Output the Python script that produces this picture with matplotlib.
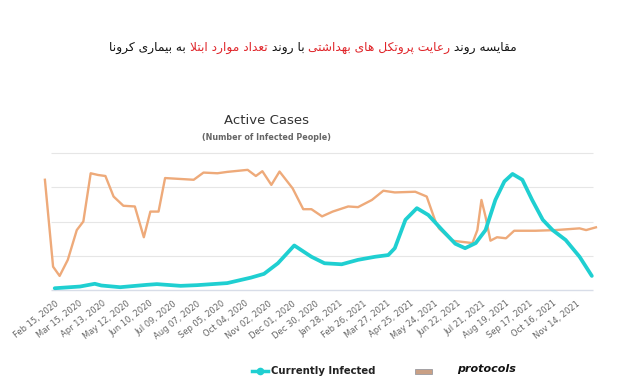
import matplotlib
matplotlib.use("Agg")
import matplotlib.pyplot as plt
import matplotlib.patches as mpatches
from matplotlib.lines import Line2D
import pandas as pd

# data (y in gridline units, 0 = axis, 4 = top gridline)
infected_dates = ["2020-02-15", "2020-03-17", "2020-04-04", "2020-04-12", "2020-05-05",
                  "2020-06-07", "2020-06-19", "2020-07-18", "2020-08-07", "2020-09-13",
                  "2020-10-12", "2020-10-28", "2020-11-14", "2020-12-04", "2020-12-25",
                  "2021-01-10", "2021-01-31", "2021-02-20", "2021-03-13", "2021-03-29",
                  "2021-04-06", "2021-04-19", "2021-05-03", "2021-05-17", "2021-06-03",
                  "2021-06-19", "2021-07-01", "2021-07-14", "2021-07-26", "2021-08-07",
                  "2021-08-18", "2021-08-28", "2021-09-09", "2021-09-21", "2021-10-04",
                  "2021-10-16", "2021-11-01", "2021-11-18", "2021-12-03"]
infected = [0.05, 0.10, 0.18, 0.13, 0.08, 0.15, 0.17, 0.12, 0.14, 0.20,
            0.36, 0.47, 0.78, 1.30, 0.97, 0.78, 0.75, 0.88, 0.97, 1.02,
            1.22, 2.05, 2.39, 2.19, 1.75, 1.35, 1.22, 1.37, 1.75, 2.63,
            3.17, 3.39, 3.22, 2.63, 2.05, 1.75, 1.46, 0.97, 0.41]

protocol_dates = ["2020-02-03", "2020-02-13", "2020-02-21", "2020-03-02", "2020-03-13",
                  "2020-03-21", "2020-03-30", "2020-04-08", "2020-04-17", "2020-04-27",
                  "2020-05-09", "2020-05-23", "2020-06-03", "2020-06-11", "2020-06-21",
                  "2020-06-29", "2020-08-03", "2020-08-15", "2020-09-01", "2020-09-13",
                  "2020-10-08", "2020-10-18", "2020-10-26", "2020-11-06", "2020-11-16",
                  "2020-12-02", "2020-12-15", "2020-12-25", "2021-01-07", "2021-01-20",
                  "2021-02-08", "2021-02-20", "2021-03-09", "2021-03-23", "2021-04-06",
                  "2021-05-01", "2021-05-15", "2021-05-25", "2021-05-30", "2021-06-15",
                  "2021-07-10", "2021-07-16", "2021-07-21", "2021-07-26", "2021-08-01",
                  "2021-08-09", "2021-08-20", "2021-08-30", "2021-09-25", "2021-10-20",
                  "2021-11-18", "2021-11-26", "2021-12-08"]
protocols = [3.22, 0.68, 0.41, 0.88, 1.75, 2.00, 3.41, 3.36, 3.33, 2.73,
             2.46, 2.44, 1.54, 2.29, 2.29, 3.27, 3.22, 3.43, 3.41, 3.45,
             3.51, 3.33, 3.47, 3.07, 3.46, 2.97, 2.36, 2.36, 2.15, 2.29,
             2.44, 2.42, 2.63, 2.90, 2.85, 2.87, 2.73, 2.05, 1.80, 1.44,
             1.37, 1.75, 2.63, 2.14, 1.44, 1.54, 1.51, 1.73, 1.73, 1.75,
             1.80, 1.75, 1.83]

tick_dates = pd.date_range("2020-02-15", periods=23, freq="29D")

title_parts = [("مقایسه روند ", "#111111"),
               ("رعایت پروتکل های بهداشتی", "#e0262b"),
               (" با روند ", "#111111"),
               ("تعداد موارد ابتلا", "#e0262b"),
               (" به بیماری کرونا", "#111111")]

# tiny arabic/persian shaper: isolated, final, initial, medial
FORMS = {
    "ا": ("\uFE8D", "\uFE8E", None, None), "د": ("\uFEA9", "\uFEAA", None, None),
    "ر": ("\uFEAD", "\uFEAE", None, None), "و": ("\uFEED", "\uFEEE", None, None),
    "ب": ("\uFE8F", "\uFE90", "\uFE91", "\uFE92"), "ت": ("\uFE95", "\uFE96", "\uFE97", "\uFE98"),
    "س": ("\uFEB1", "\uFEB2", "\uFEB3", "\uFEB4"), "ش": ("\uFEB5", "\uFEB6", "\uFEB7", "\uFEB8"),
    "ع": ("\uFEC9", "\uFECA", "\uFECB", "\uFECC"), "ق": ("\uFED5", "\uFED6", "\uFED7", "\uFED8"),
    "ل": ("\uFEDD", "\uFEDE", "\uFEDF", "\uFEE0"), "م": ("\uFEE1", "\uFEE2", "\uFEE3", "\uFEE4"),
    "ن": ("\uFEE5", "\uFEE6", "\uFEE7", "\uFEE8"), "ه": ("\uFEE9", "\uFEEA", "\uFEEB", "\uFEEC"),
    "پ": ("\uFB56", "\uFB57", "\uFB58", "\uFB59"), "ک": ("\uFB8E", "\uFB8F", "\uFB90", "\uFB91"),
    "ی": ("\uFBFC", "\uFBFD", "\uFBFE", "\uFBFF"),
}


def shape(text):
    out = []
    chars = list(text)
    i = 0
    while i < len(chars):
        c = chars[i]
        if c not in FORMS:
            out.append(c)
            i += 1
            continue
        prev = chars[i - 1] if i > 0 else None
        joins_prev = prev in FORMS and FORMS[prev][2] is not None
        if c == "ل" and i + 1 < len(chars) and chars[i + 1] == "ا":
            out.append("\uFEFC" if joins_prev else "\uFEFB")
            i += 2
            continue
        nxt = chars[i + 1] if i + 1 < len(chars) else None
        joins_next = FORMS[c][2] is not None and nxt in FORMS
        iso, fin, ini, med = FORMS[c]
        if joins_prev and joins_next:
            out.append(med)
        elif joins_prev:
            out.append(fin)
        elif joins_next:
            out.append(ini)
        else:
            out.append(iso)
        i += 1
    return "".join(out)[::-1]


fig = plt.figure(figsize=(6.4, 3.85), dpi=100)
W, H = 640, 385

# axes: px 40..600 horizontally, px 150..292 vertically
ax = fig.add_axes([40 / W, 1 - 292 / H, 560 / W, 142 / H])
inf_x = pd.to_datetime(infected_dates)
pro_x = pd.to_datetime(protocol_dates)

for g in [1, 2, 3, 4]:
    ax.hlines(g, pd.Timestamp("2020-02-11"), pd.Timestamp("2021-12-05"), color="#e6e6e6", lw=0.8, zorder=0)
ax.hlines(0, pd.Timestamp("2020-02-11"), pd.Timestamp("2021-12-05"), color="#d8dde8", lw=1.0, zorder=0)

ax.plot(pro_x, protocols, color="#eeaa7a", lw=1.7, solid_joinstyle="round", zorder=2)
ax.plot(inf_x, infected, color="#1fcfd1", lw=2.7, solid_joinstyle="round", solid_capstyle="round", zorder=3)

ax.set_xlim(pd.Timestamp("2020-01-28"), pd.Timestamp("2021-12-13"))
ax.set_ylim(-0.06, 4.09)
ax.set_xticks(tick_dates)
ax.set_xticklabels([d.strftime("%b %d, %Y") for d in tick_dates], rotation=38,
                   ha="right", rotation_mode="anchor", fontsize=6, color="#666666")
ax.tick_params(axis="x", length=0, pad=5)
ax.set_yticks([])
for s in ax.spines.values():
    s.set_visible(False)
ax.patch.set_alpha(0)

# chart titles
fig.text(267 / W, 1 - 121 / H, "Active Cases", ha="center", va="center", fontsize=9.5, color="#333333")
fig.text(267 / W, 1 - 138 / H, "(Number of Infected People)", ha="center", va="center",
         fontsize=5.8, color="#666666", fontweight="bold")

# persian title, drawn right to left in coloured pieces
renderer = fig.canvas.get_renderer()
x_right = 517
for part, col in title_parts:
    t = fig.text(x_right / W, 1 - 51 / H, shape(part), ha="right", va="baseline",
                 fontsize=8.8, color=col, family="DejaVu Sans")
    x_right -= t.get_window_extent(renderer).width

# legend
fig.add_artist(Line2D([252 / W, 268 / W], [1 - 371 / H, 1 - 371 / H], color="#1fcfd1", lw=2.5,
                      transform=fig.transFigure))
fig.add_artist(Line2D([260 / W], [1 - 371 / H], color="#1fcfd1", marker="o", markersize=4.5,
                      transform=fig.transFigure))
fig.text(271 / W, 1 - 371 / H, "Currently Infected", ha="left", va="center", fontsize=7.3,
         fontweight="bold", color="#222222")
fig.add_artist(mpatches.Rectangle((415 / W, 1 - 374 / H), 17 / W, 5 / H, facecolor="#c9a085",
                                  edgecolor="#9a9aa0", lw=0.6, transform=fig.transFigure))
fig.text(457 / W, 1 - 369 / H, "protocols", ha="left", va="center", fontsize=8,
         fontweight="bold", fontstyle="italic", color="#111111")

fig.savefig("out.png", dpi=100)
